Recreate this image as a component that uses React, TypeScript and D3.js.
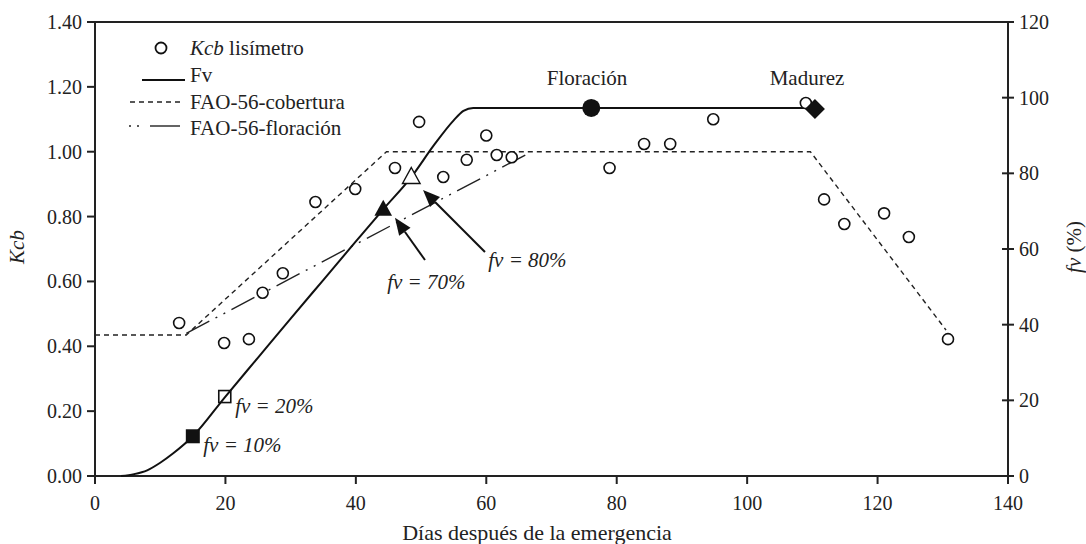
import React from "react";
import * as d3 from "d3";

// ---- data ----
const kcbDays = [12.9, 19.8, 23.6, 25.7, 28.8, 33.8, 39.9, 46.0, 49.7, 53.4, 57.0, 60.0, 61.6, 63.9, 78.9, 84.2, 88.2, 94.8, 109.0, 111.8, 114.9, 121.0, 124.8, 130.8];
const kcbValues = [0.472, 0.41, 0.422, 0.565, 0.625, 0.845, 0.885, 0.95, 1.092, 0.922, 0.975, 1.05, 0.99, 0.983, 0.95, 1.024, 1.024, 1.10, 1.15, 0.853, 0.777, 0.81, 0.737, 0.422];

const fvDays = [4, 6, 8, 10, 12, 15, 20, 25, 30, 35, 40, 44.2, 48.5, 52, 55, 56.5, 58, 110];
const fvValues = [0, 0.5, 1.5, 3.5, 6, 10.5, 21, 31.3, 41.6, 51.8, 62, 70.5, 79, 87.5, 94, 96.5, 97.3, 97.3];

const coberturaDays = [0, 14, 44.7, 109.7, 130.5];
const coberturaValues = [0.435, 0.435, 1.0, 1.0, 0.45];

const floracionDays = [14, 66];
const floracionValues = [0.44, 0.99];

const xTicks = [0, 20, 40, 60, 80, 100, 120, 140];
const kcbTicks = [0, 0.2, 0.4, 0.6, 0.8, 1.0, 1.2, 1.4];
const fvTicks = [0, 20, 40, 60, 80, 100, 120];

// fv markers (day, fv %)
const fv10 = { day: 15, fv: 10.5 };
const fv20 = { day: 19.9, fv: 21 };
const fv70 = { day: 44.2, fv: 70.5 };
const fv80 = { day: 48.5, fv: 79 };
const floracionPt = { day: 76.1, fv: 97.3 };
const madurezPt = { day: 110.4, fv: 97.0 };

// arrows (day, Kcb)
const arrow70 = { from: [50.6, 0.666], to: [46.0, 0.796] };
const arrow80 = { from: [59.8, 0.691], to: [50.3, 0.882] };

const W = 1086, H = 544;
const L = 95, R = 1008, T = 22, B = 476;
const FONT = "'Liberation Serif', 'DejaVu Serif', serif";

export default function App() {
  const x = d3.scaleLinear().domain([0, 140]).range([L, R]);
  const y = d3.scaleLinear().domain([0, 1.4]).range([B, T]);
  const y2 = d3.scaleLinear().domain([0, 120]).range([B, T]);

  const fvLine = d3.line<number>().x((d, i) => x(fvDays[i])).y((d) => y2(d)).curve(d3.curveMonotoneX);
  const kLine = (days: number[]) => d3.line<number>().x((d, i) => x(days[i])).y((d) => y(d));

  const arrow = (a: { from: number[]; to: number[] }) => {
    const x1 = x(a.from[0]), y1 = y(a.from[1]), x2 = x(a.to[0]), y2p = y(a.to[1]);
    const ang = Math.atan2(y2p - y1, x2 - x1);
    const len = 17, hw = 7;
    const bx = x2 - len * Math.cos(ang), by = y2p - len * Math.sin(ang);
    const px = -Math.sin(ang) * hw, py = Math.cos(ang) * hw;
    return (
      <g>
        <line x1={x1} y1={y1} x2={bx} y2={by} stroke="#111" strokeWidth={2} />
        <polygon points={`${x2},${y2p} ${bx + px},${by + py} ${bx - px},${by - py}`} fill="#111" />
      </g>
    );
  };

  const tri = (cx: number, cy: number, s: number) =>
    `${cx},${cy - s * 0.6} ${cx + s * 0.55},${cy + s * 0.4} ${cx - s * 0.55},${cy + s * 0.4}`;

  const txt: React.CSSProperties = { fontFamily: FONT };

  const fvLabel = (day: number, k: number, t: string) => (
    <text x={x(day)} y={y(k)} dy="0.35em" fontStyle="italic" fontSize={21} style={txt}>{t}</text>
  );

  return (
    <svg width={W} height={H} style={{ position: "absolute", left: 0, top: 0, background: "#fff", fontFamily: FONT }} fill="#222">
      {/* frame */}
      <line x1={L} y1={T} x2={R} y2={T} stroke="#222" strokeWidth={2} />
      <line x1={L} y1={T} x2={L} y2={B} stroke="#222" strokeWidth={2} />
      <line x1={R} y1={T} x2={R} y2={B} stroke="#222" strokeWidth={2} />
      <line x1={L} y1={B} x2={R} y2={B} stroke="#222" strokeWidth={2} />

      {/* left axis */}
      {kcbTicks.map((t) => (
        <g key={"k" + t}>
          <line x1={L - 8} x2={L} y1={y(t)} y2={y(t)} stroke="#222" strokeWidth={2} />
          <text x={L - 13} y={y(t)} dy="0.35em" textAnchor="end" fontSize={20} style={txt}>{d3.format(".2f")(t)}</text>
        </g>
      ))}
      {/* right axis */}
      {fvTicks.map((t) => (
        <g key={"f" + t}>
          <line x1={R - 6} x2={R + 6} y1={y2(t)} y2={y2(t)} stroke="#222" strokeWidth={2} />
          <text x={R + 11} y={y2(t)} dy="0.35em" textAnchor="start" fontSize={20} style={txt}>{t}</text>
        </g>
      ))}
      {/* bottom axis */}
      {xTicks.map((t) => (
        <g key={"x" + t}>
          <line x1={x(t)} x2={x(t)} y1={B} y2={B + 8} stroke="#222" strokeWidth={2} />
          <text x={x(t)} y={503} dy="0.35em" textAnchor="middle" fontSize={20} style={txt}>{t}</text>
        </g>
      ))}

      {/* axis titles */}
      <text x={537} y={540} textAnchor="middle" fontSize={22} style={txt}>Días después de la emergencia</text>
      <text transform={`translate(24,247) rotate(-90)`} textAnchor="middle" fontSize={21} fontStyle="italic" style={txt}>Kcb</text>
      <text transform={`translate(1081,247) rotate(-90)`} textAnchor="middle" fontSize={21} style={txt}>
        <tspan fontStyle="italic">fv</tspan> (%)
      </text>

      {/* FAO lines */}
      <path d={kLine(coberturaDays)(coberturaValues) || ""} fill="none" stroke="#222" strokeWidth={1.4} strokeDasharray="5,4" />
      <path d={kLine(floracionDays)(floracionValues) || ""} fill="none" stroke="#222" strokeWidth={1.4} strokeDasharray="26,7,2,7,2,7" />

      {/* Fv line */}
      <path d={fvLine(fvValues) || ""} fill="none" stroke="#111" strokeWidth={2} />

      {/* Kcb points */}
      {kcbValues.map((v, i) => (
        <circle key={"c" + i} cx={x(kcbDays[i])} cy={y(v)} r={5.5} fill="#fff" stroke="#111" strokeWidth={1.6} />
      ))}

      {/* fv markers */}
      <rect x={x(fv10.day) - 7} y={y2(fv10.fv) - 7} width={14} height={14} fill="#111" />
      <rect x={x(fv20.day) - 6} y={y2(fv20.fv) - 6} width={12} height={12} fill="none" stroke="#111" strokeWidth={1.6} />
      <polygon points={tri(x(fv70.day), y2(fv70.fv), 16)} fill="#111" />
      <polygon points={tri(x(fv80.day), y2(fv80.fv), 16)} fill="#fff" stroke="#111" strokeWidth={1.4} />
      <circle cx={x(floracionPt.day)} cy={y2(floracionPt.fv)} r={9} fill="#111" />
      <polygon
        points={`${x(madurezPt.day)},${y2(madurezPt.fv) - 10} ${x(madurezPt.day) + 10},${y2(madurezPt.fv)} ${x(madurezPt.day)},${y2(madurezPt.fv) + 10} ${x(madurezPt.day) - 10},${y2(madurezPt.fv)}`}
        fill="#111"
      />

      {/* arrows */}
      {arrow(arrow70)}
      {arrow(arrow80)}

      {/* annotations */}
      {fvLabel(16.6, 0.096, "fv = 10%")}
      {fvLabel(21.5, 0.216, "fv = 20%")}
      {fvLabel(44.8, 0.598, "fv = 70%")}
      {fvLabel(60.3, 0.666, "fv = 80%")}
      <text x={587} y={78} dy="0.35em" textAnchor="middle" fontSize={21} style={txt}>Floración</text>
      <text x={807} y={78} dy="0.35em" textAnchor="middle" fontSize={21} style={txt}>Madurez</text>

      {/* legend */}
      <circle cx={161} cy={48} r={5.5} fill="#fff" stroke="#111" strokeWidth={1.8} />
      <text x={190} y={48} dy="0.35em" fontSize={21} style={txt}><tspan fontStyle="italic">Kcb</tspan> lisímetro</text>
      <line x1={142} x2={185} y1={80} y2={80} stroke="#111" strokeWidth={2} />
      <text x={190} y={75} dy="0.35em" fontSize={21} style={txt}>Fv</text>
      <line x1={130} x2={184} y1={102} y2={102} stroke="#222" strokeWidth={1.4} strokeDasharray="5,4" />
      <text x={190} y={102} dy="0.35em" fontSize={21} style={txt}>FAO-56-cobertura</text>
      <line x1={129} x2={131} y1={126} y2={126} stroke="#222" strokeWidth={1.4} />
      <line x1={137} x2={139} y1={126} y2={126} stroke="#222" strokeWidth={1.4} />
      <line x1={150} x2={180} y1={126} y2={126} stroke="#222" strokeWidth={1.4} />
      <text x={190} y={128} dy="0.35em" fontSize={21} style={txt}>FAO-56-floración</text>
    </svg>
  );
}
